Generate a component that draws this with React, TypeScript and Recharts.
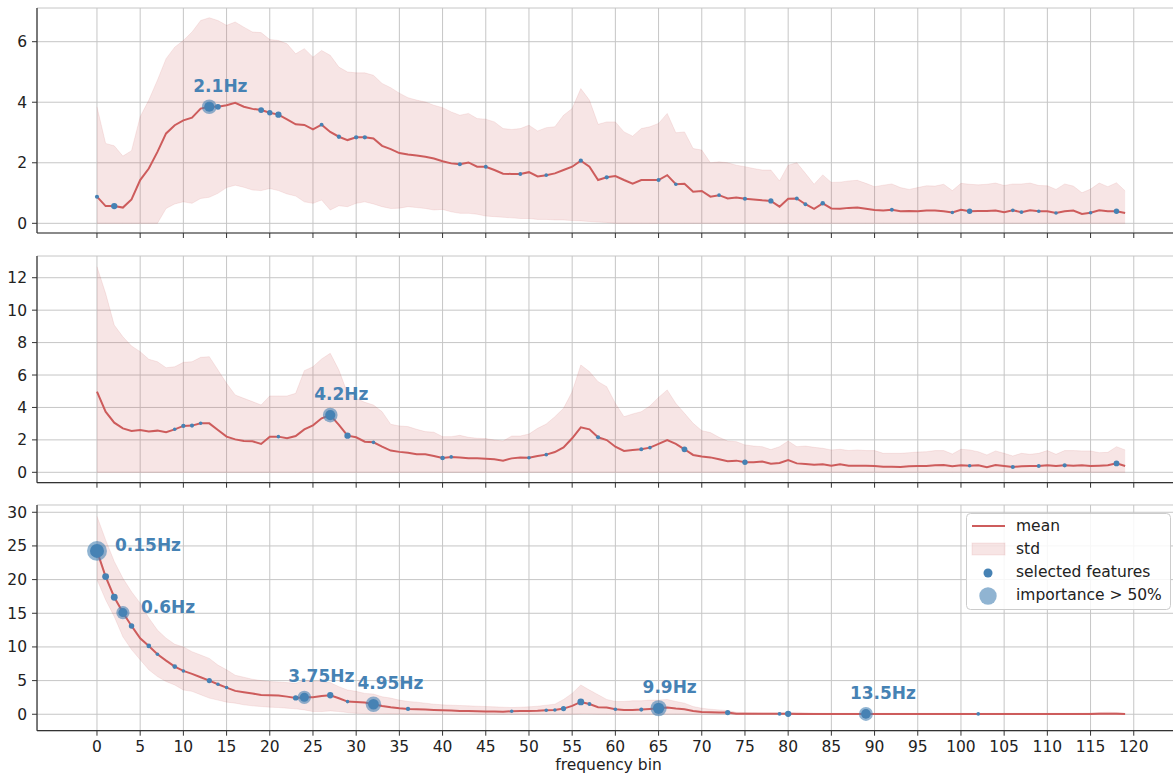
import React from 'react';
import { ComposedChart, Line, Area, Scatter, XAxis, YAxis, CartesianGrid } from 'recharts';

// ---- data (120 frequency bins per panel) ----
const mean1 = [
  0.88, 0.57, 0.57, 0.52, 0.79, 1.43, 1.81, 2.36, 2.97, 3.24,
  3.4, 3.49, 3.79, 3.85, 3.85, 3.9, 3.98, 3.85, 3.78, 3.74,
  3.65, 3.59, 3.43, 3.27, 3.25, 3.1, 3.26, 3.02, 2.86, 2.75,
  2.84, 2.84, 2.8, 2.56, 2.45, 2.32, 2.27, 2.24, 2.2, 2.14,
  2.05, 1.98, 1.95, 2.01, 1.87, 1.87, 1.76, 1.64, 1.63, 1.63,
  1.69, 1.55, 1.59, 1.65, 1.76, 1.87, 2.07, 1.87, 1.43, 1.52,
  1.56, 1.43, 1.31, 1.43, 1.43, 1.43, 1.59, 1.29, 1.31, 1.04,
  1.07, 0.88, 0.93, 0.82, 0.85, 0.81, 0.79, 0.76, 0.74, 0.55,
  0.81, 0.82, 0.63, 0.48, 0.66, 0.49, 0.48, 0.51, 0.52, 0.48,
  0.44, 0.42, 0.45, 0.4, 0.41, 0.4, 0.42, 0.42, 0.4, 0.36,
  0.45, 0.4, 0.41, 0.41, 0.42, 0.37, 0.43, 0.37, 0.43, 0.4,
  0.4, 0.34, 0.4, 0.42, 0.31, 0.35, 0.43, 0.4, 0.4, 0.34,
];
const upper1 = [
  3.85, 2.64, 2.56, 2.22, 2.4, 3.52, 4.07, 4.73, 5.44, 5.82,
  6.04, 6.32, 6.7, 6.79, 6.7, 6.54, 6.65, 6.48, 6.32, 6.3,
  6.07, 6.04, 5.93, 5.6, 5.77, 5.49, 5.71, 5.55, 5.16, 5.0,
  4.97, 4.97, 4.89, 4.62, 4.48, 4.3, 4.15, 4.07, 4.01, 3.9,
  3.82, 3.68, 3.57, 3.63, 3.46, 3.44, 3.35, 3.13, 3.1, 3.13,
  3.24, 3.05, 3.16, 3.19, 3.57, 3.79, 4.45, 4.07, 3.27, 3.35,
  3.35, 3.02, 2.88, 3.13, 3.19, 3.3, 3.63, 2.99, 3.02, 2.47,
  2.42, 2.0, 2.03, 2.0, 1.92, 1.87, 1.81, 1.76, 1.76, 1.4,
  1.92, 2.0, 1.65, 1.29, 1.6, 1.35, 1.36, 1.4, 1.42, 1.32,
  1.21, 1.26, 1.3, 1.18, 1.12, 1.18, 1.24, 1.23, 1.29, 1.08,
  1.32, 1.29, 1.27, 1.29, 1.33, 1.25, 1.3, 1.3, 1.33, 1.25,
  1.24, 1.12, 1.3, 1.23, 1.01, 1.13, 1.33, 1.21, 1.34, 1.07,
];
const lower1 = [
  0, 0, 0, 0, 0, 0, 0, 0, 0.49, 0.64,
  0.71, 0.66, 0.82, 0.86, 0.99, 1.18, 1.26, 1.19, 1.1, 1.08,
  1.15, 1.08, 0.97, 0.9, 0.71, 0.66, 0.77, 0.44, 0.58, 0.55,
  0.66, 0.71, 0.64, 0.55, 0.49, 0.5, 0.55, 0.52, 0.49, 0.44,
  0.46, 0.38, 0.33, 0.33, 0.3, 0.24, 0.22, 0.2, 0.18, 0.16,
  0.16, 0.13, 0.13, 0.11, 0.11, 0.09, 0.08, 0.06, 0.04, 0.03,
  0, 0, 0, 0, 0, 0, 0, 0, 0, 0,
  0, 0, 0, 0, 0, 0, 0, 0, 0, 0,
  0, 0, 0, 0, 0, 0, 0, 0, 0, 0,
  0, 0, 0, 0, 0, 0, 0, 0, 0, 0,
  0, 0, 0, 0, 0, 0, 0, 0, 0, 0,
  0, 0, 0, 0, 0, 0, 0, 0, 0, 0,
];

const mean2 = [
  4.97, 3.74, 3.06, 2.71, 2.55, 2.61, 2.51, 2.57, 2.47, 2.65,
  2.86, 2.88, 3.02, 3.02, 2.61, 2.2, 2.03, 1.93, 1.91, 1.75,
  2.2, 2.2, 2.1, 2.24, 2.65, 2.9, 3.33, 3.53, 2.92, 2.26,
  2.16, 1.89, 1.85, 1.58, 1.34, 1.26, 1.21, 1.11, 1.11, 1.01,
  0.88, 0.95, 0.92, 0.86, 0.86, 0.84, 0.8, 0.72, 0.86, 0.92,
  0.9, 1.01, 1.09, 1.25, 1.54, 2.1, 2.77, 2.65, 2.16, 1.99,
  1.58, 1.32, 1.38, 1.42, 1.52, 1.75, 1.99, 1.75, 1.42, 1.07,
  0.97, 0.92, 0.8, 0.68, 0.72, 0.62, 0.62, 0.66, 0.53, 0.57,
  0.76, 0.55, 0.51, 0.47, 0.49, 0.41, 0.49, 0.41, 0.41, 0.41,
  0.39, 0.35, 0.35, 0.33, 0.37, 0.39, 0.39, 0.43, 0.45, 0.37,
  0.43, 0.41, 0.43, 0.31, 0.45, 0.39, 0.33, 0.37, 0.39, 0.39,
  0.43, 0.39, 0.43, 0.41, 0.43, 0.39, 0.41, 0.43, 0.55, 0.39,
];
const upper2 = [
  12.68, 11.04, 9.08, 8.36, 7.79, 7.44, 6.97, 6.82, 6.45, 6.51,
  6.78, 6.82, 7.09, 7.13, 6.31, 5.49, 4.77, 4.56, 4.36, 4.15,
  4.71, 4.71, 4.71, 4.87, 6.27, 6.51, 6.99, 7.34, 6.31, 4.87,
  4.56, 4.32, 4.15, 3.74, 2.96, 2.86, 2.82, 2.65, 2.51, 2.47,
  2.2, 2.2, 2.28, 2.16, 2.1, 2.08, 1.99, 1.93, 2.24, 2.24,
  2.36, 2.71, 2.98, 3.43, 3.95, 4.97, 6.62, 6.21, 5.59, 5.28,
  4.25, 3.43, 3.6, 3.74, 4.09, 4.62, 5.08, 4.25, 3.64, 3.02,
  2.57, 2.45, 2.16, 1.93, 1.89, 1.69, 1.62, 1.58, 1.4, 1.58,
  1.93, 1.58, 1.62, 1.54, 1.48, 1.38, 1.42, 1.34, 1.38, 1.34,
  1.34, 1.17, 1.17, 1.17, 1.21, 1.25, 1.27, 1.34, 1.34, 1.13,
  1.42, 1.38, 1.27, 1.07, 1.32, 1.17, 1.01, 1.17, 1.11, 1.17,
  1.34, 1.11, 1.34, 1.34, 1.32, 1.32, 1.21, 1.23, 1.58, 1.38,
];
const lower2 = mean2.map(() => 0);

const mean3 = [
  24.26, 20.45, 17.38, 15.1, 13.12, 11.29, 10.15, 8.91, 7.97, 7.08,
  6.44, 5.99, 5.5, 5.0, 4.46, 3.96, 3.47, 3.27, 3.07, 2.87,
  2.82, 2.77, 2.62, 2.43, 2.52, 2.52, 2.72, 2.82, 2.38, 1.88,
  1.83, 1.73, 1.49, 1.24, 1.04, 0.89, 0.79, 0.74, 0.69, 0.64,
  0.59, 0.55, 0.5, 0.47, 0.44, 0.42, 0.4, 0.38, 0.45, 0.48,
  0.5, 0.52, 0.59, 0.64, 0.84, 1.24, 1.83, 1.53, 1.04, 0.99,
  0.74, 0.64, 0.64, 0.69, 0.79, 0.89, 0.99, 0.84, 0.74, 0.5,
  0.35, 0.3, 0.25, 0.25, 0.08, 0.07, 0.07, 0.06, 0.06, 0.06,
  0.06, 0.05, 0.05, 0.05, 0.05, 0.05, 0.05, 0.05, 0.05, 0.05,
  0.05, 0.05, 0.05, 0.05, 0.05, 0.05, 0.05, 0.05, 0.05, 0.05,
  0.05, 0.05, 0.05, 0.05, 0.05, 0.05, 0.05, 0.05, 0.05, 0.05,
  0.05, 0.05, 0.05, 0.05, 0.05, 0.05, 0.06, 0.07, 0.06, 0.05,
];
const upper3 = [
  29.4, 25.9, 22.7, 20.2, 18.2, 16.5, 14.3, 12.5, 11.3, 10.4,
  10.0, 9.3, 8.8, 8.3, 7.3, 6.6, 5.8, 5.5, 5.2, 5.0,
  4.85, 4.8, 4.7, 4.6, 5.0, 4.95, 4.85, 4.7, 4.1, 3.6,
  3.4, 3.1, 3.0, 2.6, 2.4, 2.1, 1.9, 1.8, 1.65, 1.5,
  1.4, 1.35, 1.3, 1.25, 1.2, 1.15, 1.1, 1.05, 1.0, 1.05,
  1.1, 1.2, 1.35, 1.5, 2.2, 3.1, 4.35, 3.6, 2.9, 2.2,
  1.9, 1.9, 2.0, 2.0, 2.1, 2.1, 2.2, 1.9, 1.65, 1.15,
  0.9, 0.75, 0.65, 0.55, 0.3, 0.25, 0.22, 0.2, 0.2, 0.2,
  0.22, 0.3, 0.22, 0.18, 0.16, 0.15, 0.15, 0.15, 0.15, 0.15,
  0.15, 0.15, 0.15, 0.15, 0.15, 0.15, 0.15, 0.15, 0.15, 0.15,
  0.15, 0.15, 0.15, 0.15, 0.15, 0.15, 0.15, 0.15, 0.15, 0.15,
  0.15, 0.15, 0.15, 0.16, 0.18, 0.2, 0.25, 0.3, 0.25, 0.15,
];
const lower3 = [
  20.0, 17.0, 14.5, 11.5, 9.6, 8.1, 6.6, 5.6, 4.85, 4.35,
  3.6, 3.4, 2.9, 2.4, 2.1, 1.8, 1.65, 1.4, 1.25, 1.15,
  1.05, 1.0, 0.9, 0.8, 0.65, 0.4, 0.4, 0.5, 0.4, 0.25,
  0.15, 0.1, 0.08, 0.06, 0.05, 0.03, 0.02, 0, 0, 0,
  0, 0, 0, 0, 0, 0, 0, 0, 0, 0,
  0, 0, 0, 0, 0, 0, 0.05, 0.03, 0, 0,
  0, 0, 0, 0, 0, 0, 0, 0, 0, 0,
  0, 0, 0, 0, 0, 0, 0, 0, 0, 0,
  0, 0, 0, 0, 0, 0, 0, 0, 0, 0,
  0, 0, 0, 0, 0, 0, 0, 0, 0, 0,
  0, 0, 0, 0, 0, 0, 0, 0, 0, 0,
  0, 0, 0, 0, 0, 0, 0, 0, 0, 0,
];

// selected features: [bin, importance 0..1]
const selected1 = [
  [0, 0.1], [2, 0.3], [13, 0.65], [14, 0.25], [19, 0.25], [20, 0.22], [21, 0.3],
  [26, 0.08], [28, 0.12], [30, 0.12], [31, 0.12], [42, 0.1], [45, 0.08], [49, 0.08],
  [52, 0.06], [56, 0.12], [59, 0.12], [65, 0.1], [67, 0.06], [72, 0.06], [75, 0.1],
  [78, 0.2], [81, 0.08], [82, 0.08], [84, 0.14], [92, 0.08], [99, 0.05], [101, 0.22],
  [106, 0.06], [107, 0.08], [109, 0.06], [111, 0.05], [115, 0.06], [118, 0.22],
];
const selected2 = [
  [9, 0.05], [10, 0.12], [11, 0.1], [12, 0.05], [21, 0.05], [27, 0.65], [29, 0.3],
  [32, 0.06], [40, 0.15], [41, 0.06], [50, 0.06], [52, 0.06], [58, 0.1], [63, 0.1],
  [64, 0.06], [68, 0.25], [75, 0.22], [101, 0.05], [106, 0.1], [109, 0.08],
  [112, 0.1], [118, 0.25],
];
const selected3 = [
  [0, 1.0], [1, 0.35], [2, 0.35], [3, 0.55], [4, 0.22], [6, 0.15], [7, 0.05],
  [9, 0.15], [10, 0.05], [13, 0.2], [14, 0.05], [15, 0.05], [23, 0.22], [24, 0.55],
  [27, 0.3], [29, 0.05], [32, 0.7], [36, 0.12], [48, 0.05], [52, 0.05], [53, 0.05],
  [54, 0.2], [56, 0.35], [57, 0.08], [60, 0.06], [63, 0.1], [65, 0.75], [73, 0.2],
  [79, 0.08], [80, 0.3], [89, 0.6], [102, 0.06],
];

const labels1: Record<number, string> = { 13: '2.1Hz' };
const labels2: Record<number, string> = { 27: '4.2Hz' };
const labels3: Record<number, string> = {
  0: '0.15Hz', 3: '0.6Hz', 24: '3.75Hz', 32: '4.95Hz', 65: '9.9Hz', 89: '13.5Hz',
};

const xTicks = [0, 5, 10, 15, 20, 25, 30, 35, 40, 45, 50, 55, 60, 65, 70, 75, 80, 85, 90, 95, 100, 105, 110, 115, 120];
const yTicks1 = [0, 2, 4, 6];
const yTicks2 = [0, 2, 4, 6, 8, 10, 12];
const yTicks3 = [0, 5, 10, 15, 20, 25, 30];

// ---- styling ----
const FONT = '"DejaVu Sans", sans-serif';
const RED = '#cd5c5c';
const BLUE = '#4682b4';
const GRID = '#c6c6c6';
const SPINE = '#333';
const TEXT = '#222';
const FS = 15.5;
const X_DOMAIN: [number, number] = [-6.94, 125.35];

const EmptyTick = () => <g />;

function makePoint(rightBelow: number) {
  return (props: any) => {
    const { cx, cy, payload } = props;
    if (cx == null || cy == null) return <g />;
    const r = 1.5 + 5.5 * payload.imp;
    const big = payload.imp > 0.5;
    const right = payload.bin < rightBelow;
    return (
      <g>
        <circle cx={cx} cy={cy} r={r} fill={BLUE} />
        {big && <circle cx={cx} cy={cy} r={r * 1.35 + 0.5} fill={BLUE} fillOpacity={0.6} />}
        {payload.label && (
          <text
            x={right ? cx + 18 : cx - 16}
            y={right ? cy : cy - 15}
            fill={BLUE}
            fontSize={17}
            fontWeight="bold"
            fontFamily={FONT}
          >
            {payload.label}
          </text>
        )}
      </g>
    );
  };
}

function Panel(props: any) {
  const { top, xHeight, mean, lower, upper, selected, labels, yDomain, yTicks, plotHeight, last, rightBelow } = props;
  const data = mean.map((m: number, i: number) => ({ bin: i, mean: m, band: [lower[i], upper[i]] }));
  const pts = selected.map(([bin, imp]: number[]) => ({ bin, mean: mean[bin], imp, label: labels[bin] }));
  const tickStyle = { fill: TEXT, fontSize: FS, fontFamily: FONT };
  return (
    <div style={{ position: 'absolute', left: 0, top }}>
      <ComposedChart
        width={1180}
        height={8 + plotHeight + xHeight}
        data={data}
        margin={{ top: 8, right: 0, bottom: 0, left: 0 }}
      >
        <CartesianGrid stroke={GRID} strokeWidth={1} />
        <XAxis
          dataKey="bin"
          type="number"
          domain={X_DOMAIN}
          allowDataOverflow
          ticks={xTicks}
          interval={0}
          height={xHeight}
          tickSize={5}
          tickMargin={5}
          tick={last ? tickStyle : EmptyTick}
          tickLine={{ stroke: SPINE }}
          axisLine={{ stroke: SPINE, strokeWidth: 1.2 }}
          label={
            last
              ? { value: 'frequency bin', position: 'insideBottom', offset: 8, fill: TEXT, fontSize: FS, fontFamily: FONT }
              : undefined
          }
        />
        <XAxis
          xAxisId="top"
          orientation="top"
          dataKey="bin"
          type="number"
          domain={X_DOMAIN}
          allowDataOverflow
          height={0}
          tick={false}
          tickLine={false}
          axisLine={{ stroke: SPINE, strokeWidth: 1.2 }}
        />
        <YAxis
          type="number"
          domain={yDomain}
          allowDataOverflow
          ticks={yTicks}
          interval={0}
          width={37}
          tickSize={5}
          tickMargin={5}
          tick={tickStyle}
          tickLine={{ stroke: SPINE }}
          axisLine={{ stroke: SPINE, strokeWidth: 1.2 }}
        />
        <Area
          type="linear"
          dataKey="band"
          fill={RED}
          fillOpacity={0.16}
          stroke={RED}
          strokeOpacity={0.12}
          isAnimationActive={false}
        />
        <Line type="linear" dataKey="mean" stroke={RED} strokeWidth={2} dot={false} isAnimationActive={false} />
        <Scatter data={pts} dataKey="mean" shape={makePoint(rightBelow)} isAnimationActive={false} />
      </ComposedChart>
    </div>
  );
}

function LegendBox() {
  const t = { fill: TEXT, fontSize: FS, fontFamily: FONT, dominantBaseline: 'central' as const };
  return (
    <div style={{ position: 'absolute', left: 966, top: 513 }}>
      <svg width={206} height={98}>
        <rect x={0.5} y={0.5} width={204} height={96} rx={4} fill="#fff" fillOpacity={0.85} stroke="#cccccc" />
        <line x1={6} x2={39} y1={13} y2={13} stroke={RED} strokeWidth={2} />
        <text x={50} y={13} {...t}>mean</text>
        <rect x={6} y={30} width={33} height={12} fill={RED} fillOpacity={0.16} stroke={RED} strokeOpacity={0.12} />
        <text x={50} y={36} {...t}>std</text>
        <circle cx={22} cy={60} r={4.5} fill={BLUE} />
        <text x={50} y={59} {...t}>selected features</text>
        <circle cx={22} cy={83} r={8.7} fill={BLUE} fillOpacity={0.6} />
        <text x={50} y={82} {...t}>importance &gt; 50%</text>
      </svg>
    </div>
  );
}

export default function App() {
  return (
    <div
      style={{
        position: 'absolute',
        left: 0,
        top: 0,
        width: 1173,
        height: 778,
        overflow: 'hidden',
        background: '#fff',
        fontFamily: FONT,
      }}
    >
      <Panel
        top={0}
        plotHeight={225}
        xHeight={15}
        mean={mean1}
        lower={lower1}
        upper={upper1}
        selected={selected1}
        labels={labels1}
        yDomain={[-0.32, 7.113]}
        yTicks={yTicks1}
        rightBelow={-1}
      />
      <Panel
        top={248}
        plotHeight={226.7}
        xHeight={15.3}
        mean={mean2}
        lower={lower2}
        upper={upper2}
        selected={selected2}
        labels={labels2}
        yDomain={[-0.641, 13.34]}
        yTicks={yTicks2}
        rightBelow={-1}
      />
      <Panel
        top={497}
        plotHeight={225.7}
        xHeight={47}
        mean={mean3}
        lower={lower3}
        upper={upper3}
        selected={selected3}
        labels={labels3}
        yDomain={[-2.44, 31.08]}
        yTicks={yTicks3}
        last
        rightBelow={5}
      />
      <LegendBox />
    </div>
  );
}
